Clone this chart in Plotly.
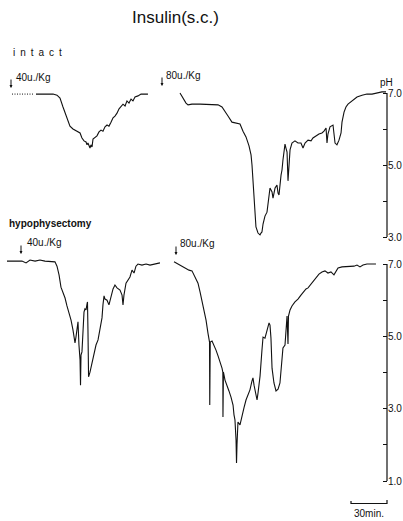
import plotly.graph_objects as go

# ---------------- data (time in minutes, value in pH) ----------------
# intact, 40 u/Kg
intact40_dotted_t = [10.0, 27.5]
intact40_dotted_ph = [6.97, 6.97]
intact40_t = [30.0, 37.5, 44.2, 47.5, 50.0, 52.5, 54.2, 55.8, 58.3, 60.8, 64.2, 66.7, 68.3, 70.0,
              71.7, 72.5, 73.3, 74.2, 75.0, 75.8, 76.7, 77.5, 79.2, 80.8, 82.5, 84.2, 85.8, 87.5,
              89.2, 90.8, 92.5, 94.2, 95.8, 97.5, 99.2, 100.8, 102.5, 104.2, 105.8, 107.5, 109.2,
              110.8, 112.5, 115.0, 117.5, 120.8, 123.3]
intact40_ph = [6.97, 6.97, 6.97, 6.94, 6.86, 6.61, 6.44, 6.28, 6.08, 6.00, 5.94, 5.89, 5.75, 5.67,
               5.64, 5.56, 5.61, 5.53, 5.47, 5.56, 5.50, 5.72, 5.78, 5.81, 5.92, 5.97, 5.94, 6.06,
               6.11, 6.08, 6.19, 6.31, 6.36, 6.44, 6.56, 6.64, 6.69, 6.64, 6.78, 6.72, 6.83,
               6.78, 6.89, 6.92, 6.97, 6.97, 6.97]

# intact, 80 u/Kg
intact80_t = [150.0, 152.5, 155.0, 156.7, 160.0, 166.7, 175.0, 181.7, 185.0, 187.5, 190.0, 193.3,
              196.7, 200.0, 202.5, 205.0, 207.5, 209.2, 210.0, 210.8, 211.7, 212.5, 213.3, 215.0,
              216.7, 217.5, 218.3, 219.2, 220.8, 222.5, 223.3, 225.0, 226.7, 227.5, 229.2, 230.8,
              231.7, 232.5, 234.2, 235.0, 235.8, 236.7, 237.5, 238.3, 239.2, 240.0, 240.8, 241.7,
              243.3, 245.8, 248.3, 250.8, 252.5, 254.2, 256.7, 259.2, 260.8, 263.3, 265.8, 268.3,
              270.0, 271.7, 272.5, 273.3, 275.0, 277.5, 279.2, 280.8, 282.5, 284.2, 285.0, 286.7,
              288.3, 290.0, 293.3, 297.5, 301.7, 305.8, 310.0, 314.2, 318.3, 321.7]
intact80_ph = [7.00, 6.86, 6.72, 6.67, 6.69, 6.69, 6.69, 6.67, 6.61, 6.50, 6.36, 6.19,
               6.17, 6.14, 5.94, 5.78, 5.53, 5.28, 5.00, 4.58, 4.11, 3.61, 3.28, 3.11,
               3.06, 3.11, 3.14, 3.36, 3.58, 3.69, 3.94, 4.36, 4.25, 4.08, 4.36, 4.44,
               4.22, 4.17, 4.72, 4.86, 5.14, 5.42, 5.58, 5.47, 5.36, 4.56, 5.19, 5.42,
               5.61, 5.67, 5.61, 5.61, 5.47, 5.61, 5.69, 5.67, 5.75, 5.81, 5.86, 5.89,
               5.94, 6.03, 5.61, 5.86, 6.06, 6.11, 5.61, 5.56, 5.69, 5.89, 6.19, 6.47,
               6.61, 6.69, 6.78, 6.89, 6.94, 6.97, 6.97, 7.00, 7.03, 7.03]

# hypophysectomy, 40 u/Kg
hypo40_t = [5.8, 10.0, 14.2, 18.3, 21.7, 25.0, 29.2, 33.3, 37.5, 41.7, 45.8, 47.5, 49.2, 50.8,
            52.5, 54.2, 55.8, 57.5, 59.2, 60.8, 61.7, 62.5, 63.3, 64.2, 65.0, 65.8, 66.7, 67.1,
            67.5, 68.3, 69.2, 70.0, 70.8, 71.7, 72.5, 72.9, 73.3, 73.8, 75.0, 76.7, 78.3, 80.0,
            81.7, 83.3, 85.0, 85.8, 86.7, 87.5, 89.2, 90.8, 92.5, 94.2, 95.8, 97.5, 100.0, 101.7,
            102.5, 103.3, 105.0, 106.7, 108.3, 110.0, 111.7, 113.3, 115.0, 118.3, 121.7, 125.0,
            129.2, 133.3]
hypo40_ph = [7.08, 7.08, 7.06, 7.08, 7.03, 7.11, 7.08, 7.11, 7.08, 7.08, 7.06, 6.94, 6.70, 6.36,
             6.20, 6.06, 5.84, 5.65, 5.45, 5.18, 4.90, 4.82, 4.98, 5.18, 5.40, 4.76, 4.35, 3.65,
             4.48, 4.57, 5.04, 5.67, 5.76, 5.73, 5.89, 5.95, 5.18, 3.88, 4.01, 4.29, 4.57, 4.76,
             4.90, 5.18, 5.51, 5.87, 6.12, 6.03, 6.00, 5.87, 6.09, 6.31, 6.42, 6.34, 6.28, 6.14,
             5.87, 6.14, 6.47, 6.56, 6.64, 6.83, 6.75, 6.94, 7.00, 6.97, 7.00, 6.97,
             7.00, 7.03]

# hypophysectomy, 80 u/Kg
hypo80_t = [145.0, 148.3, 151.7, 155.0, 157.5, 160.0, 162.5, 165.0, 166.7, 168.3, 170.0, 171.7,
            173.3, 174.6, 174.8, 175.2, 176.7, 178.3, 180.0, 181.7, 183.3, 185.0, 185.7, 185.8,
            186.2, 187.5, 189.2, 190.8, 192.5, 194.2, 195.0, 195.8, 196.7, 197.1, 197.5, 197.9,
            198.3, 200.0, 201.7, 203.3, 205.0, 206.7, 208.3, 210.0, 210.8, 211.7, 212.5, 214.2,
            215.0, 216.7, 218.3, 219.2, 220.8, 222.5, 224.2, 225.0, 225.8, 226.7, 228.3, 230.0,
            231.7, 233.3, 234.2, 235.8, 237.5, 239.2, 240.0, 240.4, 241.7, 243.3, 245.8, 248.3,
            250.8, 253.3, 255.0, 256.7, 259.2, 260.8, 263.3, 265.8, 268.3, 270.8, 273.3, 275.8,
            278.3, 280.0, 281.7, 285.0, 288.3, 291.7, 295.0, 297.5, 300.0, 302.5, 305.8, 309.2,
            313.3]
hypo80_ph = [7.06, 7.00, 6.94, 6.89, 6.83, 6.81, 6.64, 6.47, 6.23, 6.00, 5.78, 5.45,
             5.09, 4.84, 3.10, 4.84, 4.87, 4.76, 4.62, 4.46, 4.32, 4.12, 4.01, 2.77,
             4.01, 3.79, 3.60, 3.49, 3.32, 3.10, 2.83, 2.69, 2.13, 1.50, 2.00, 2.47,
             2.63, 2.55, 2.83, 3.02, 3.24, 3.41, 3.52, 3.77, 3.85, 3.65, 3.52, 3.24,
             3.43, 3.90, 4.62, 4.98, 4.95, 5.15, 5.37, 5.31, 4.95, 4.12, 3.71, 3.49,
             3.54, 3.71, 4.15, 4.68, 4.76, 5.56, 4.79, 5.56, 5.73, 5.84, 5.95, 6.03,
             6.14, 6.23, 6.31, 6.34, 6.45, 6.50, 6.64, 6.72, 6.78, 6.81, 6.75, 6.78,
             6.70, 6.81, 6.89, 6.92, 6.92, 6.92, 6.94, 6.97, 6.92, 6.97, 7.00, 7.00,
             7.00]

top_tickvals = [3, 4, 5, 6, 7]
top_ticktext = ["3.0", "", "5.0", "", "7.0"]
bottom_tickvals = [1, 2, 3, 4, 5, 6, 7]
bottom_ticktext = ["1.0", "", "3.0", "", "5.0", "", "7.0"]
scale_bar_minutes = 30

# ---------------- layout geometry (pixels) ----------------
W, H = 403, 521
MIN_PER_PX = 30 / 36


def xp(px):
    return px / W


def yp(py):
    return 1 - py / H


# top panel: pH 7 at y=93, pH 3 at y=237 ; bottom: pH 7 at y=264, pH 1 at y=481
top_unit = (237 - 93) / 4
bot_unit = (481 - 264) / 6
top_dom_px = (70, 245)
bot_dom_px = (250, 490)
top_range = [7 - (top_dom_px[1] - 93) / top_unit, 7 + (93 - top_dom_px[0]) / top_unit]
bot_range = [7 - (bot_dom_px[1] - 264) / bot_unit, 7 + (264 - bot_dom_px[0]) / bot_unit]
axis_x = xp(387)

LINE = dict(color="#111111", width=1.1)
FONT = "Liberation Sans, Arial, sans-serif"

fig = go.Figure()
fig.add_trace(go.Scatter(x=intact40_dotted_t, y=intact40_dotted_ph, mode="lines",
                         line=dict(color="#111111", width=1, dash="1px,1.5px"), yaxis="y"))
fig.add_trace(go.Scatter(x=intact40_t, y=intact40_ph, mode="lines", line=LINE, yaxis="y"))
fig.add_trace(go.Scatter(x=intact80_t, y=intact80_ph, mode="lines", line=LINE, yaxis="y"))
fig.add_trace(go.Scatter(x=hypo40_t, y=hypo40_ph, mode="lines", line=LINE, yaxis="y2"))
fig.add_trace(go.Scatter(x=hypo80_t, y=hypo80_ph, mode="lines", line=LINE, yaxis="y2"))

yax_common = dict(side="right", anchor="free", position=axis_x, ticks="inside", ticklen=4,
                  tickwidth=1, tickcolor="#111111", showgrid=False, zeroline=False,
                  showline=False, tickfont=dict(family=FONT, size=10, color="#111111"),
                  fixedrange=True)

fig.update_layout(
    width=W, height=H, margin=dict(l=0, r=0, t=0, b=0),
    paper_bgcolor="white", plot_bgcolor="white", showlegend=False,
    xaxis=dict(range=[0, W * MIN_PER_PX], domain=[0, 1], visible=False, fixedrange=True),
    yaxis=dict(domain=[yp(top_dom_px[1]), yp(top_dom_px[0])], range=top_range,
               tickvals=top_tickvals, ticktext=top_ticktext, **yax_common),
    yaxis2=dict(domain=[yp(bot_dom_px[1]), yp(bot_dom_px[0])], range=bot_range,
                tickvals=bottom_tickvals, ticktext=bottom_ticktext, **yax_common),
)

# axis spines
fig.add_shape(type="line", xref="paper", yref="y", x0=axis_x, x1=axis_x, y0=3, y1=7,
              line=dict(color="#111111", width=1.2))
fig.add_shape(type="line", xref="paper", yref="y2", x0=axis_x, x1=axis_x, y0=1, y1=7,
              line=dict(color="#111111", width=1.2))

# scale bar (30 min)
sb_start = 351 * MIN_PER_PX
sb_end = sb_start + scale_bar_minutes
fig.add_shape(type="path", xref="x", yref="paper",
              path=f"M {sb_start},{yp(501)} L {sb_start},{yp(503.5)} L {sb_end},{yp(503.5)} L {sb_end},{yp(500)}",
              line=dict(color="#111111", width=1.2))


def text(s, x, y, size=10, xanchor="left", weight=None):
    fig.add_annotation(text=s, x=xp(x), y=yp(y), xref="paper", yref="paper", showarrow=False,
                       xanchor=xanchor, yanchor="middle",
                       font=dict(family=FONT, size=size, color="#111111",
                                 weight=weight if weight else "normal"))


def arrow(x, y_tip, length=10):
    fig.add_annotation(text="", x=xp(x), y=yp(y_tip), xref="paper", yref="paper",
                       showarrow=True, ax=0, ay=-length, arrowhead=2, arrowsize=0.6,
                       arrowwidth=1, arrowcolor="#111111")


SP = "\u2002"
text("Insulin(s.c.)", 175, 17, size=17, xanchor="center")
text(SP.join("intact"), 11, 52, size=10)
text("40u./Kg", 14, 77, size=10)
arrow(11, 88)
text("80u./Kg", 164, 75, size=10)
arrow(162, 86)
text("pH", 386, 83, size=10, xanchor="center")
text("hypophysectomy", 7, 223, size=10, weight="bold")
text("40u./Kg", 25, 242, size=10)
arrow(21, 254)
text("80u./Kg", 178, 243, size=10)
arrow(176, 255)
text("30min.", 369, 513, size=10, xanchor="center")

fig.write_html("out.html", config={"displayModeBar": False},
               post_script="document.body.style.margin='0';")
